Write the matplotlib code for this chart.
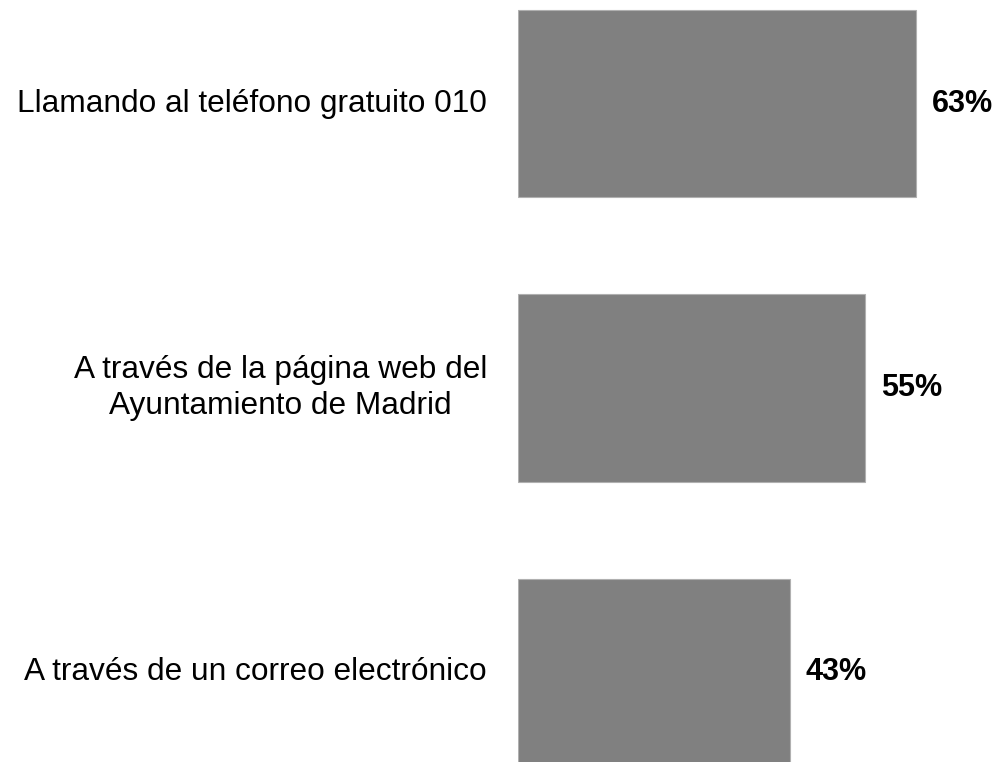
import matplotlib.pyplot as plt

categories = ['Llamando al teléfono gratuito 010',
              'A través de la página web del\nAyuntamiento de Madrid',
              'A través de un correo electrónico']
values = [63, 55, 43]

plt.rcParams['font.family'] = ['Liberation Sans', 'DejaVu Sans']

fig = plt.figure(figsize=(10.02, 7.62), dpi=100)
ax = fig.add_axes([518 / 1002, 0, 480 / 1002, 1])

ypos = range(len(values))
ax.barh(ypos, values, height=0.66, color='#808080', edgecolor='#b0b0b0', linewidth=0.8)
ax.set_xlim(0, 76)
ax.set_ylim(2.315, -0.364)
ax.axis('off')

for y, v, lab in zip(ypos, values, categories):
    ax.text(v + 2.5, y, f'{v}%', va='center', ha='left', fontsize=22, fontweight='bold')
    ax.annotate(lab, xy=(0, y), xytext=(-31, 0), textcoords='offset pixels',
                ha='right', va='center', multialignment='center', fontsize=22.8,
                linespacing=1.3)

fig.savefig('out.png', dpi=100)
